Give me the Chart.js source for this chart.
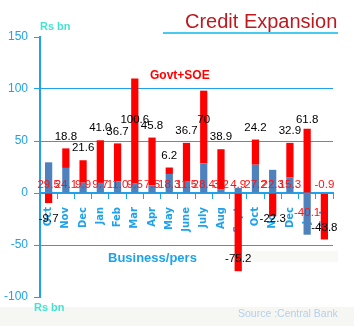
<!DOCTYPE html>
<html>
<head>
<meta charset="utf-8">
<script src="https://cdn.jsdelivr.net/npm/chart.js@4.4.0/dist/chart.umd.min.js"></script>
<style>
  body { margin: 0; background: #fff; }
  #wrap { position: relative; width: 354px; height: 326px; }
</style>
</head>
<body>
<div id="wrap"><canvas id="creditChart"></canvas></div>
<script>
// credit expansion, Rs bn (month on month)
var months = ['Oct', 'Nov', 'Dec', 'Jan', 'Feb', 'Mar', 'Apr', 'May', 'June', 'July', 'Aug', 'Sept', 'Oct', 'Nov', 'Dec', 'Jan', 'Feb'];
var businessPers = ['29.5', '24.1', '9.9', '9.7', '11.0', '9.5', '7.5', '18.3', '11.5', '28.4', '3.2', '4.9', '27.2', '22.3', '15.3', '-40.1', '-0.9'];
var govtSoe = ['-9.7', '18.8', '21.6', '41.0', '36.7', '100.6', '45.8', '6.2', '36.7', '70', '38.9', '-75.2', '24.2', '-22.3', '32.9', '61.8', '-43.8'];
var yTicks = [150, 100, 50, 0, -50, -100];

var axisBlue = '#1fa2ea';

// backgrounds, titles and value labels
var decorations = {
    id: 'decorations',
    beforeDraw: function(chart) {
        var ctx = chart.ctx;
        ctx.save();
        ctx.fillStyle = '#f6f6f2';
        ctx.fillRect(0, 307, chart.width, chart.height - 307);
        ctx.fillStyle = '#f8f8f5';
        ctx.fillRect(243, 251, 95, 11);
        ctx.restore();
    },
    afterDatasetsDraw: function(chart) {
        var ctx = chart.ctx, y = chart.scales.y;
        var zero = y.getPixelForValue(0);
        var cap = y.getPixelForValue(70), floor = y.getPixelForValue(-25);
        ctx.save();
        ctx.font = '11.5px "Liberation Sans", Arial, sans-serif';
        ctx.textAlign = 'center';
        ctx.textBaseline = 'middle';
        chart.getDatasetMeta(0).data.forEach(function(bar, i) {
            var v = +businessPers[i];
            ctx.fillStyle = '#ff1010';
            ctx.fillText(businessPers[i], bar.x, v < -5 ? zero + 20 : zero - 8);
        });
        chart.getDatasetMeta(1).data.forEach(function(bar, i) {
            var v = +govtSoe[i];
            var ty = v >= 0 ? Math.max(bar.y - 12, cap) : Math.max(bar.y - 12, floor);
            ctx.fillStyle = '#000';
            ctx.fillText(govtSoe[i], bar.x, ty);
        });
        ctx.restore();
    },
    afterDraw: function(chart) {
        var ctx = chart.ctx;
        ctx.save();
        ctx.textBaseline = 'alphabetic';
        ctx.textAlign = 'left';
        // title + underline
        ctx.fillStyle = '#bd1a1f';
        ctx.font = '20px "Liberation Sans", Arial, sans-serif';
        ctx.fillText('Credit Expansion', 185, 28);
        ctx.fillStyle = '#48caef';
        ctx.fillRect(163, 32, 175, 2);
        // unit labels
        ctx.fillStyle = '#45e3cf';
        ctx.font = 'bold 11px "Liberation Sans", Arial, sans-serif';
        ctx.fillText('Rs bn', 40, 30);
        ctx.fillText('Rs bn', 34, 311);
        // series names
        ctx.fillStyle = '#ff0000';
        ctx.font = 'bold 12px "Liberation Sans", Arial, sans-serif';
        ctx.fillText('Govt+SOE', 150, 79);
        ctx.fillStyle = axisBlue;
        ctx.font = 'bold 13px "Liberation Sans", Arial, sans-serif';
        ctx.fillText('Business/pers', 108, 262);
        // source
        ctx.fillStyle = '#b3d0ee';
        ctx.font = '10.5px "Liberation Sans", Arial, sans-serif';
        ctx.fillText('Source :Central Bank', 238, 317);
        ctx.restore();
    }
};

var ctx = document.getElementById('creditChart').getContext('2d');
var chart = new Chart(ctx, {
    type: 'bar',
    data: {
        labels: months,
        datasets: [{
            label: 'Business/pers',
            backgroundColor: '#4f81bd',
            data: businessPers
        }, {
            label: 'Govt+SOE',
            backgroundColor: '#ff0000',
            data: govtSoe
        }]
    },
    options: {
        responsive: true,
        maintainAspectRatio: false,
        animation: false,
        devicePixelRatio: 1,
        categoryPercentage: 1.0,
        barPercentage: 0.42,
        layout: { padding: { top: 37, right: 21, bottom: 29, left: 0 } },
        plugins: {
            legend: { display: false },
            tooltip: { enabled: false }
        },
        scales: {
            x: {
                stacked: true,
                position: { y: 0 },
                grid: {
                    drawOnChartArea: false,
                    drawTicks: true,
                    tickLength: 5,
                    tickColor: axisBlue,
                    offset: true
                },
                border: { display: true, color: axisBlue, width: 2 },
                ticks: {
                    color: axisBlue,
                    font: { family: 'DejaVu Sans', size: 10, weight: 'bold' },
                    minRotation: 90,
                    maxRotation: 90,
                    autoSkip: false,
                    padding: 9
                }
            },
            y: {
                stacked: true,
                min: -100,
                max: 150,
                afterBuildTicks: function(scale) {
                    scale.ticks = yTicks.map(function(v) { return { value: v }; });
                },
                afterFit: function(scale) { scale.width = 40; },
                grid: {
                    color: function(c) {
                        return (c.tick && (c.tick.value === 150 || c.tick.value === -100)) ? 'rgba(0,0,0,0)' : axisBlue;
                    },
                    tickColor: axisBlue,
                    tickLength: 6,
                    lineWidth: 1
                },
                border: { color: axisBlue, width: 2 },
                ticks: {
                    color: axisBlue,
                    font: { family: 'Liberation Sans', size: 12 },
                    padding: 6
                }
            }
        }
    },
    plugins: [decorations]
});
</script>
</body>
</html>
